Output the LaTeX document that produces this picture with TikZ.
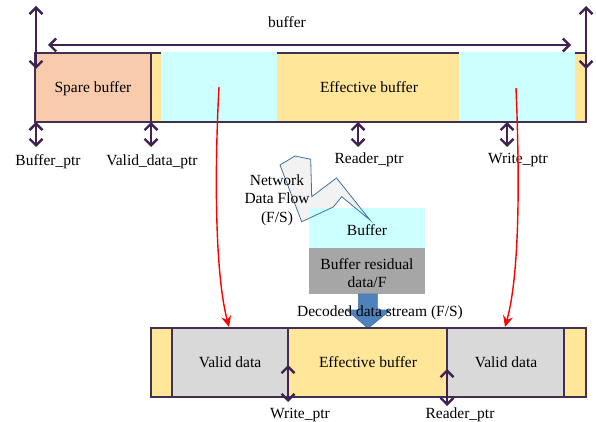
\documentclass[tikz,border=0pt]{standalone}
\usepackage{fontspec}
\setmainfont{Liberation Serif}
\usetikzlibrary{arrows.meta}

\definecolor{ptrpurple}{RGB}{62,34,82}
\definecolor{edgepurple}{RGB}{64,49,82}
\definecolor{sparefill}{HTML}{F8CBAD}
\definecolor{effill}{HTML}{FFE699}
\definecolor{freefill}{HTML}{CCFFFF}
\definecolor{validfill}{HTML}{D9D9D9}
\definecolor{residfill}{HTML}{A6A6A6}
\definecolor{boltfill}{HTML}{F2F2F2}
\definecolor{boltedge}{HTML}{41719C}
\definecolor{streamblue}{HTML}{4F81BD}

\tikzset{
  lbl/.style={font=\fontsize{15.5}{18.5}\selectfont, inner sep=0pt, text=black},
  ptrarrow/.style={draw=ptrpurple, line width=2.4pt,
    {Straight Barb[length=6.5pt,width=13pt]}-{Straight Barb[length=6.5pt,width=13pt]}},
  baredge/.style={draw=edgepurple, line width=1.3pt},
  flowarrow/.style={draw=red, line width=1.4pt, -{Stealth[length=11pt,width=10pt]}},
}

\begin{document}
\begin{tikzpicture}[x=1pt,y=-1pt]
\useasboundingbox (0,0) rectangle (596,422);

% ---- upper buffer ----
\fill[effill] (35,53) rectangle (586,122);
\draw[baredge] (35,53) rectangle (586,122);
\fill[freefill] (161,52.3) rectangle (277,121.3);
\fill[freefill] (459,52.3) rectangle (575,121.3);
\filldraw[fill=sparefill, baredge] (35,53) rectangle (151,122);

\node[lbl, anchor=base] (spare) at (93,93) {Spare buffer};
\node[lbl, anchor=base] (efftop) at (369,93) {Effective buffer};
\node[lbl, anchor=base] (buflbl) at (287,28) {buffer};

% pointer end points on the upper buffer
\coordinate (lvtop) at (36,6);   \coordinate (lvbot) at (36,69);
\coordinate (rvtop) at (586,6);  \coordinate (rvbot) at (586,69);
\coordinate (hleft) at (48,45);  \coordinate (hright) at (571,45);
\coordinate (bp1) at (36,122);   \coordinate (bp2) at (36,147);
\coordinate (vp1) at (151,122);  \coordinate (vp2) at (151,147);
\coordinate (rp1) at (358,122);  \coordinate (rp2) at (358,147);
\coordinate (wp1) at (507,122);  \coordinate (wp2) at (507,147);

\draw[ptrarrow] (lvtop) -- (lvbot);
\draw[ptrarrow] (rvtop) -- (rvbot);
\draw[ptrarrow] (hleft) -- (hright);
\draw[ptrarrow] (bp1) -- (bp2);
\draw[ptrarrow] (vp1) -- (vp2);
\draw[ptrarrow] (rp1) -- (rp2);
\draw[ptrarrow] (wp1) -- (wp2);

\node[lbl, anchor=base] (bufptr) at (48,165) {Buffer\_ptr};
\node[lbl, anchor=base] (validptr) at (152,165) {Valid\_data\_ptr};
\node[lbl, anchor=base] (readptr) at (369,164) {Reader\_ptr};
\node[lbl, anchor=base] (writeptr) at (518,164) {Write\_ptr};

% ---- network input and staging buffer ----
\path[fill=boltfill] (280,165) -- (295,156) -- (310.7,159.3) -- (311.7,196.7)
  -- (336.5,178) -- (370,220) -- (341.7,196.7) -- (333.3,207) -- (301.7,221.7) -- cycle;
\fill[freefill] (309,208) rectangle (425,248);
\fill[residfill] (309,248) rectangle (425,294);
\draw[boltedge, line width=0.8pt, line join=miter] (280,165) -- (295,156) -- (310.7,159.3) -- (311.7,196.7)
  -- (336.5,178) -- (370,220) -- (341.7,196.7) -- (333.3,207) -- (301.7,221.7) -- cycle;

\node[lbl, align=center] (netflow) at (277,200) {Network\\Data Flow\\(F/S)};
\node[lbl, anchor=base] (stagebuf) at (367,235) {Buffer};
\node[lbl, align=center] (residual) at (367,273) {Buffer residual\\data/F};

% decoded stream arrow
\filldraw[fill=streamblue, draw=boltedge, line width=0.6pt] (358.3,294) -- (377.3,294) -- (377.3,310)
  -- (390.7,310) -- (368,328.3) -- (346.7,310) -- (358.3,310) -- cycle;

% ---- lower buffer ----
\filldraw[fill=effill, baredge] (151,328) rectangle (586,397);
\filldraw[fill=validfill, baredge] (172,328) rectangle (288,397);
\filldraw[fill=validfill, baredge] (447,328) rectangle (564,397);

\node[lbl, anchor=base] (decoded) at (380,316) {Decoded data stream (F/S)};
\node[lbl, anchor=base] (valid1) at (230,367) {Valid data};
\node[lbl, anchor=base] (effbot) at (368,367) {Effective buffer};
\node[lbl, anchor=base] (valid2) at (506,367) {Valid data};

\coordinate (bw1) at (288,365);  \coordinate (bw2) at (288,402);
\coordinate (br1) at (447,369);  \coordinate (br2) at (447,406);
\draw[ptrarrow] (bw1) -- (bw2);
\draw[ptrarrow] (br1) -- (br2);

\node[lbl, anchor=base] (writebot) at (300,418) {Write\_ptr};
\node[lbl, anchor=base] (readbot) at (460,418) {Reader\_ptr};

% ---- data movement from the upper free regions to the lower valid regions ----
\coordinate (srcL) at (219,87);  \coordinate (dstL) at (229,327);
\coordinate (srcR) at (516,88);  \coordinate (dstR) at (505,327);
\draw[flowarrow] (srcL) .. controls (215,160) and (214,270) .. (dstL);
\draw[flowarrow] (srcR) .. controls (519,160) and (521,270) .. (dstR);
\end{tikzpicture}
\end{document}
